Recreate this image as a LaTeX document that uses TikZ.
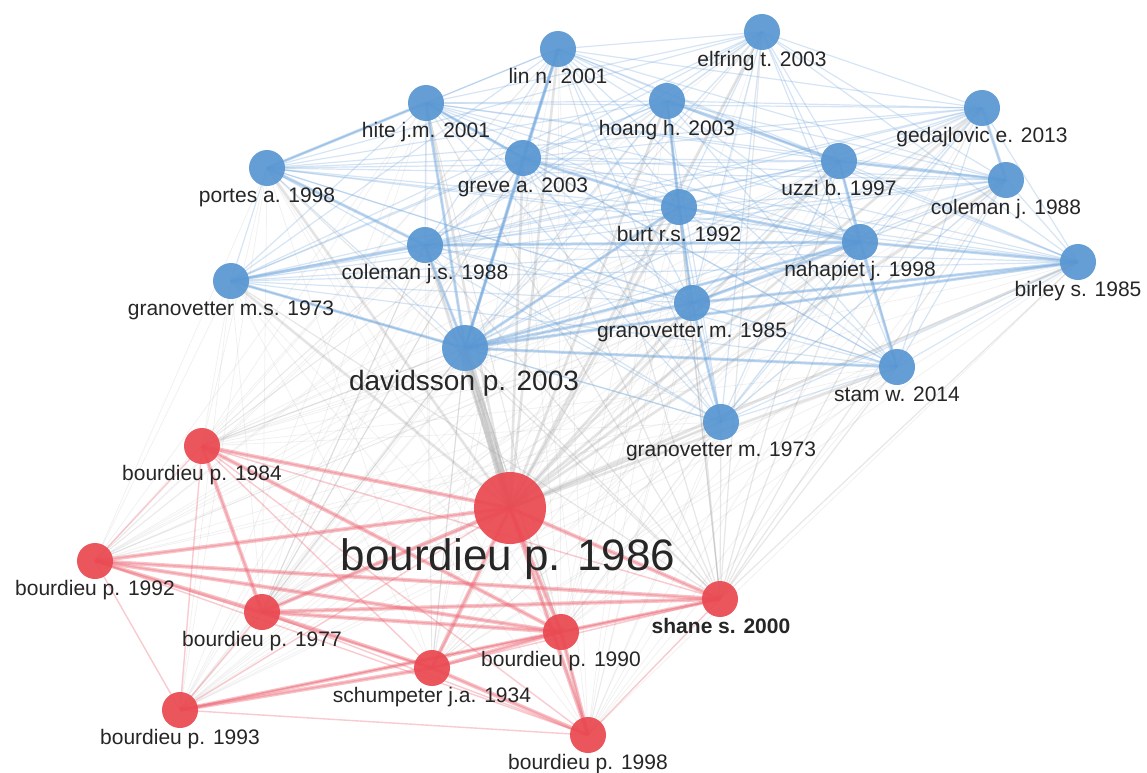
\documentclass[tikz,border=0pt]{standalone}
\usepackage{fontspec}
\setmainfont{Liberation Sans}
\usetikzlibrary{backgrounds}
\definecolor{nblue}{RGB}{88,150,210}
\definecolor{nred}{RGB}{234,72,80}
\definecolor{eblue}{RGB}{110,165,220}
\definecolor{ered}{RGB}{238,105,118}
\definecolor{egray}{RGB}{160,160,160}
\definecolor{txt}{RGB}{38,38,38}
\begin{document}
\begin{tikzpicture}[x=1pt,y=-1pt,
  bnode/.style={circle,fill=nblue,fill opacity=0.92,inner sep=0pt,minimum size=36pt},
  rnode/.style={circle,fill=nred,fill opacity=0.92,inner sep=0pt,minimum size=36pt},
  lab/.style={text=txt,font=\fontsize{21}{24}\selectfont,inner sep=0pt,anchor=base},
  bedge/.style={draw=eblue,draw opacity=0.28,line width=1.2pt},
  bthick/.style={draw=eblue,draw opacity=0.4,line width=3pt},
  redge/.style={draw=ered,draw opacity=0.35,line width=1.4pt},
  rthick/.style={draw=ered,draw opacity=0.4,line width=4pt},
  gedge/.style={draw=egray,draw opacity=0.14,line width=0.8pt},
  gmid/.style={draw=egray,draw opacity=0.25,line width=1.2pt},
  gthick/.style={draw=egray,draw opacity=0.28,line width=2.6pt}
]
\useasboundingbox (0,0) rectangle (1147,772);
% blue cluster
\foreach \n/\x/\y/\t in {lin/558/49/lin n. 2001, elf/762/32/elfring t. 2003,
  hite/426/103/hite j.m. 2001, hoang/667/101/hoang h. 2003,
  geda/982/108/gedajlovic e. 2013, portes/267/168/portes a. 1998,
  greve/523/158/greve a. 2003, uzzi/839/161/uzzi b. 1997,
  colj/1006/180/coleman j. 1988, burt/679/207/burt r.s. 1992,
  coljs/425/245/coleman j.s. 1988, nahap/860/242/nahapiet j. 1998,
  granms/231/281/granovetter m.s. 1973, birley/1078/262/birley s. 1985,
  gran85/692/303/granovetter m. 1985, stam/897/367/stam w. 2014,
  gran73/721/422/granovetter m. 1973}{
  \node[bnode] (\n) at (\x,\y) {};
  \node[lab] (\n-l) at (\x,\y+34) {\t};
}
\node[bnode,minimum size=46pt] (david) at (465,348) {};
\node[lab,font=\fontsize{28}{32}\selectfont] (david-l) at (464,390) {davidsson p. 2003};
% red cluster
\foreach \n/\x/\y/\t in {b84/202/446/bourdieu p. 1984, b92/95/561/bourdieu p. 1992,
  b77/262/612/bourdieu p. 1977, b90/561/632/bourdieu p. 1990,
  schump/432/668/schumpeter j.a. 1934, b93/180/710/bourdieu p. 1993,
  b98/588/735/bourdieu p. 1998}{
  \node[rnode] (\n) at (\x,\y) {};
  \node[lab] (\n-l) at (\x,\y+34) {\t};
}
\node[rnode] (shane) at (720,599) {};
\node[lab,font=\fontsize{21}{24}\selectfont\bfseries] (shane-l) at (721,633) {shane s. 2000};
\node[rnode,minimum size=72pt] (b86) at (510,508) {};
\node[lab,font=\fontsize{44}{48}\selectfont] (b86-l) at (508,570) {bourdieu p. 1986};

\def\bluelist{lin,elf,hite,hoang,geda,portes,greve,uzzi,colj,burt,coljs,nahap,granms,birley,gran85,david,stam,gran73}
\def\redlist{b84,b86,b92,b77,b90,schump,b93,b98,shane}
\def\redsmall{b84,b92,b77,b90,schump,b93,b98}

\begin{pgfonlayer}{background}
\fill[white] (0,0) rectangle (1147,772);
% cross-cluster edges
\foreach \a in \bluelist {
  \foreach \b in \redsmall { \draw[gedge] (\a.center) -- (\b.center); }
  \draw[gthick] (\a.center) -- (b86.center);
  \draw[gmid] (\a.center) -- (shane.center);
}
\draw[draw=egray,draw opacity=0.35,line width=9pt] (david.center) -- (b86.center);
\foreach \a/\b in {david/b77,david/b90,david/schump,coljs/b77,greve/b77,david/b84}{
  \draw[gmid] (\a.center) -- (\b.center);
}
% blue edges
\foreach \a [count=\i] in \bluelist {
  \foreach \b [count=\j] in \bluelist {
    \ifnum\j>\i \draw[bedge] (\a.center) -- (\b.center); \fi
  }
}
\foreach \a/\b in {david/greve,david/coljs,david/gran85,david/burt,david/nahap,
  david/granms,david/hite,david/lin,hoang/burt,burt/gran85,gran85/gran73,
  nahap/stam,uzzi/nahap,geda/colj,portes/coljs,granms/coljs,greve/hite,
  greve/lin,coljs/nahap,greve/burt,hoang/uzzi,burt/nahap,gran85/nahap,
  david/stam,portes/hite,david/birley,gran85/birley,nahap/birley,uzzi/colj}{
  \draw[bthick] (\a.center) -- (\b.center);
}
% red edges
\foreach \a [count=\i] in \redlist {
  \foreach \b [count=\j] in \redlist {
    \ifnum\j>\i \draw[redge] (\a.center) -- (\b.center); \fi
  }
}
\foreach \a/\b in {b86/b84,b86/b92,b86/b77,b86/b90,b86/schump,b86/b98,b86/shane,
  b92/b77,b77/schump,b77/b90,b77/shane,schump/b90,schump/b98,b90/b98,
  b90/shane,b84/b77,b92/b90,b93/schump,b93/b90,b84/b90,b92/shane}{
  \draw[rthick] (\a.center) -- (\b.center);
}
\end{pgfonlayer}
\end{tikzpicture}
\end{document}
